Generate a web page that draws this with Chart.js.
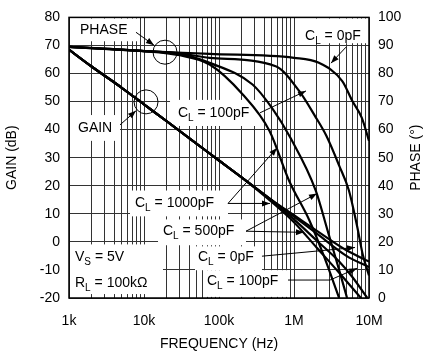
<!DOCTYPE html>
<html>
<head>
<meta charset="utf-8">
<script src="https://cdn.jsdelivr.net/npm/chart.js@4.4.1/dist/chart.umd.min.js"></script>
<style>
  html, body { margin: 0; padding: 0; background: #fff; }
</style>
</head>
<body>
<canvas id="chart" width="425" height="356"></canvas>
<script>
// frequency in Hz, gain in dB, phase in degrees
var gainFreq = [1e3, 2e3, 5e3, 1e4, 2e4, 5e4, 1e5, 2e5, 5e5, 1e6, 2e6, 5e6, 1e7];
var gain0pF = [68.5, 62.5, 55, 49, 43, 35, 29, 23, 15, 9.5, 4, -3, -7];
var gain100pF = [68.5, 62.5, 55, 49, 43, 35, 29, 23, 15, 9, 3, -5, -9];

var gain500Freq = [1e3, 2e3, 5e3, 1e4, 2e4, 5e4, 1e5, 2e5, 5e5, 1e6, 2e6, 4e6, 6e6, 9.5e6];
var gain500pF = [68.5, 62.5, 55, 49, 43, 35, 29, 23, 14.8, 8, 0.5, -7, -12.5, -20];

var gain1000Freq = [1e3, 2e3, 5e3, 1e4, 2e4, 5e4, 1e5, 2e5, 5e5, 1e6, 2e6, 4e6, 7.8e6];
var gain1000pF = [68.5, 62.5, 55, 49, 43, 35, 29, 23, 14.3, 7, -2, -11, -20];

var phase0Freq = [1e3, 1e4, 7.5e4, 1e6, 2.15e6, 4.4e6, 6e6, 8e6, 1e7];
var phase0pF = [89.5, 88, 87, 85.6, 83.8, 77.3, 70.2, 64.3, 56];

var phase100Freq = [1e3, 1e4, 3e4, 7.5e4, 5.7e5, 1.17e6, 1.9e6, 2.7e6, 4e6, 5.4e6, 6.9e6, 8.3e6, 1e7];
var phase100pF = [89.5, 88, 87.2, 85.6, 82.6, 73.8, 64.9, 57.8, 47.2, 38.3, 25.9, 15.2, 8];

var phase500Freq = [1e3, 1e4, 3e4, 7.5e4, 2.8e5, 5e5, 9e5, 1.95e6, 2.8e6, 4e6, 5.1e6];
var phase500pF = [89.5, 88, 87, 83.8, 76.1, 68, 57, 38.3, 24.1, 10, 0];

var phase1000Freq = [1e3, 1e4, 3e4, 7.5e4, 2.06e5, 4.7e5, 8.6e5, 1.6e6, 2.5e6, 4e6];
var phase1000pF = [89.5, 88, 86.5, 83.2, 72.6, 59.6, 41.8, 27.7, 15, 0];

var xTicks = [];
[1e3, 1e4, 1e5, 1e6].forEach(function (d) {
    for (var m = 1; m < 10; m++) xTicks.push(m * d);
});
xTicks.push(1e7);
var xLabels = { 1000: '1k', 10000: '10k', 100000: '100k', 1000000: '1M', 10000000: '10M' };

var FONT = "'Liberation Sans', Arial, Helvetica, sans-serif";

// annotation positions: [log10(freq), dB]
var boxes = [
    [3.013, 79.6, 3.907, 71.5],   // PHASE
    [3.013, 45.2, 3.68, 36.0],    // GAIN
    [6.08, 79.6, 6.987, 70.8],    // CL = 0pF (top)
    [4.347, 50.6, 5.573, 41.3],   // CL = 100pF (top)
    [3.813, 18.3, 5.12, 9.1],     // CL = 1000pF
    [4.187, 8.0, 5.36, -1.2],     // CL = 500pF
    [4.68, -1.6, 5.573, -10.1],   // CL = 0pF
    [4.787, -10.1, 5.947, -19.6], // CL = 100pF
    [3.013, -0.9, 4.253, -18.6]   // VS / RL
];

var labels = [
    { at: [3.147, 75.4], parts: [['PHASE', 0]] },
    { at: [3.12, 40.6], parts: [['GAIN', 0]] },
    { at: [6.147, 73.3], parts: [['C', 0], ['L', 1], [' = 0pF', 0]] },
    { at: [4.453, 46.0], parts: [['C', 0], ['L', 1], [' = 100pF', 0]] },
    { at: [3.88, 13.7], parts: [['C', 0], ['L', 1], [' = 1000pF', 0]] },
    { at: [4.253, 3.8], parts: [['C', 0], ['L', 1], [' = 500pF', 0]] },
    { at: [4.72, -5.5], parts: [['C', 0], ['L', 1], [' = 0pF', 0]] },
    { at: [4.84, -14.0], parts: [['C', 0], ['L', 1], [' = 100pF', 0]] },
    { at: [3.08, -5.5], parts: [['V', 0], ['S', 1], [' = 5V', 0]] },
    { at: [3.08, -14.7], parts: [['R', 0], ['L', 1], [' = 100k\u03A9', 0]] }
];

var arrows = [
    [[3.893, 74.7], [4.133, 70.1]],
    [[3.68, 41.7], [3.893, 46.7]],
    [[6.693, 69.4], [6.493, 63.7]],
    [[5.547, 46.0], [6.16, 53.8]],
    [[5.12, 13.7], [5.773, 33.5]],
    [[5.12, 13.7], [5.68, 13.7]],
    [[5.36, 3.8], [6.307, 17.2]],
    [[5.36, 3.8], [6.133, 3.4]],
    [[5.573, -5.1], [6.813, -2.0]],
    [[5.92, -13.6], [6.48, -13.6], [6.84, -9.4]]
];

var circles = [[4.28, 67.6], [4.027, 49.9]];

function xy(freqs, vals) {
    return freqs.map(function (f, i) { return { x: f, y: vals[i] }; });
}

function curve(freqs, vals, axis) {
    return {
        data: xy(freqs, vals),
        yAxisID: axis,
        borderColor: '#000',
        borderWidth: 2.2,
        pointRadius: 0,
        fill: false,
        cubicInterpolationMode: 'monotone'
    };
}

var annotate = {
    id: 'annotate',
    beforeDatasetsDraw: function (chart) {
        var c = chart.ctx, xs = chart.scales.x, ys = chart.scales.y, a = chart.chartArea;
        c.save();
        c.fillStyle = '#fff';
        boxes.forEach(function (b) {
            var x1 = xs.getPixelForValue(Math.pow(10, b[0])), y1 = ys.getPixelForValue(b[1]);
            var x2 = xs.getPixelForValue(Math.pow(10, b[2])), y2 = ys.getPixelForValue(b[3]);
            c.fillRect(x1, y1, x2 - x1, y2 - y1);
        });
        c.strokeStyle = '#000';
        c.lineWidth = 1.5;
        c.strokeRect(a.left, a.top, a.right - a.left, a.bottom - a.top);
        c.restore();
    },
    afterDatasetsDraw: function (chart) {
        var c = chart.ctx, xs = chart.scales.x, ys = chart.scales.y, a = chart.chartArea;
        function P(p) { return [xs.getPixelForValue(Math.pow(10, p[0])), ys.getPixelForValue(p[1])]; }
        c.save();
        c.fillStyle = '#000';
        c.strokeStyle = '#000';
        c.textBaseline = 'middle';
        c.textAlign = 'left';
        labels.forEach(function (l) {
            var p = P(l.at), cx = p[0];
            l.parts.forEach(function (t) {
                c.font = (t[1] ? '10px ' : '14px ') + FONT;
                c.fillText(t[0], cx, t[1] ? p[1] + 5 : p[1]);
                cx += c.measureText(t[0]).width;
            });
        });
        c.lineWidth = 1;
        arrows.forEach(function (ar) {
            var pts = ar.map(P);
            c.beginPath();
            c.moveTo(pts[0][0], pts[0][1]);
            for (var i = 1; i < pts.length; i++) c.lineTo(pts[i][0], pts[i][1]);
            c.stroke();
            var e = pts[pts.length - 1], s = pts[pts.length - 2];
            var ang = Math.atan2(e[1] - s[1], e[0] - s[0]);
            c.beginPath();
            c.moveTo(e[0], e[1]);
            c.lineTo(e[0] - 8 * Math.cos(ang) + 3 * Math.sin(ang), e[1] - 8 * Math.sin(ang) - 3 * Math.cos(ang));
            c.lineTo(e[0] - 8 * Math.cos(ang) - 3 * Math.sin(ang), e[1] - 8 * Math.sin(ang) + 3 * Math.cos(ang));
            c.closePath();
            c.fill();
        });
        circles.forEach(function (ci) {
            var p = P(ci);
            c.beginPath();
            c.arc(p[0], p[1], 12, 0, Math.PI * 2);
            c.stroke();
        });
        // right axis title, reading bottom to top like the left one
        c.font = '14px ' + FONT;
        c.textAlign = 'center';
        c.translate(chart.width - 9, (a.top + a.bottom) / 2);
        c.rotate(-Math.PI / 2);
        c.fillText('PHASE (\u00B0)', 0, 0);
        c.restore();
    }
};

new Chart(document.getElementById('chart'), {
    type: 'line',
    data: {
        datasets: [
            curve(gainFreq, gain0pF, 'y'),
            curve(gainFreq, gain100pF, 'y'),
            curve(gain500Freq, gain500pF, 'y'),
            curve(gain1000Freq, gain1000pF, 'y'),
            curve(phase0Freq, phase0pF, 'y1'),
            curve(phase100Freq, phase100pF, 'y1'),
            curve(phase500Freq, phase500pF, 'y1'),
            curve(phase1000Freq, phase1000pF, 'y1')
        ]
    },
    options: {
        responsive: false,
        animation: false,
        layout: { padding: { top: 16 } },
        plugins: { legend: { display: false }, tooltip: { enabled: false } },
        scales: {
            x: {
                type: 'logarithmic',
                min: 1e3,
                max: 1e7,
                afterBuildTicks: function (s) { s.ticks = xTicks.map(function (v) { return { value: v }; }); },
                afterFit: function (s) { s.height = 58; },
                ticks: {
                    autoSkip: false, maxRotation: 0, padding: 15, color: '#000',
                    font: { family: FONT, size: 14 },
                    callback: function (v) { return xLabels[v] || ''; }
                },
                grid: { color: '#333', lineWidth: 1, drawTicks: false },
                border: { display: false },
                title: { display: true, text: 'FREQUENCY (Hz)', color: '#000', font: { family: FONT, size: 14 }, padding: { top: 0, bottom: 3 } }
            },
            y: {
                min: -20, max: 80,
                afterFit: function (s) { s.width = 69; },
                ticks: { stepSize: 10, padding: 9, color: '#000', font: { family: FONT, size: 14 } },
                grid: { color: '#333', lineWidth: 1, drawTicks: false },
                border: { display: false },
                title: { display: true, text: 'GAIN (dB)', color: '#000', font: { family: FONT, size: 14 }, padding: { top: 4, bottom: 0 } }
            },
            y1: {
                position: 'right',
                min: 0, max: 100,
                afterFit: function (s) { s.width = 56; },
                ticks: { stepSize: 10, padding: 9, color: '#000', font: { family: FONT, size: 14 } },
                grid: { drawOnChartArea: false, drawTicks: false },
                border: { display: false }
            }
        }
    },
    plugins: [annotate]
});
</script>
</body>
</html>
